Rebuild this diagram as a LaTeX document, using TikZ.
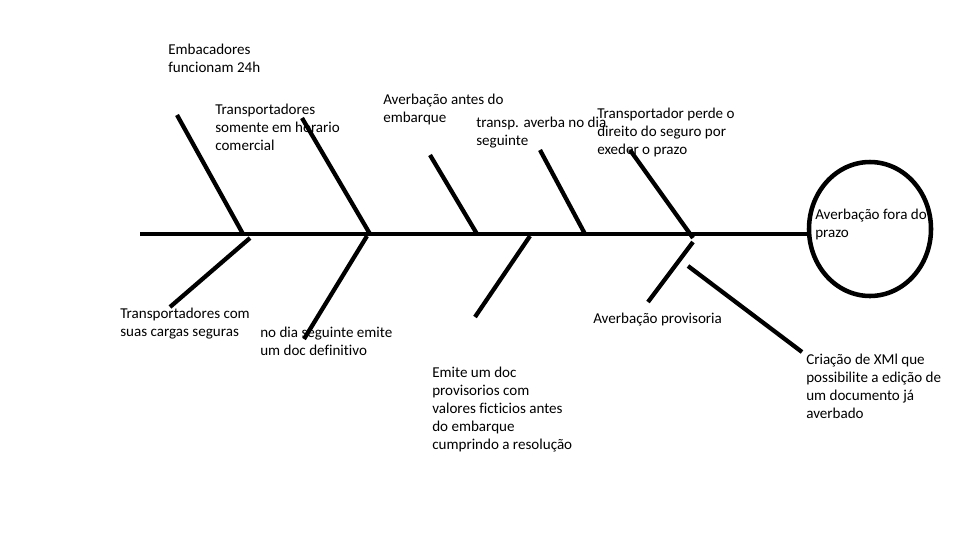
\documentclass[tikz,border=0pt]{standalone}
\usepackage{fontspec}
\setmainfont[Ligatures={NoCommon}]{Carlito}
\begin{document}
\begin{tikzpicture}[x=0.75pt,y=-0.75pt,
  bone/.style={line width=3.2pt},
  lbl/.style={anchor=north west,align=left,inner sep=0pt,font=\fontsize{11.3}{13.5}\selectfont}]
\useasboundingbox[fill=white] (0,0) rectangle (960,540);
% spine and head
\coordinate (tail) at (140,234);
\draw[line width=3.4pt] (870,229) ellipse [x radius=61, y radius=67];
\coordinate (head) at (809,234);
\draw[bone] (tail) -- (head);
% upper bones
\draw[bone] (177,115) -- (243,234);
\draw[bone] (302,118) -- (370,234);
\draw[bone] (430,155) -- (477,234);
\draw[bone] (540,150) -- (585,234);
\draw[bone] (630,150) -- (693,238);
% lower bones
\draw[bone] (250,238) -- (170,307);
\draw[bone] (367,236) -- (304,339);
\draw[bone] (530,236) -- (475,317);
\draw[bone] (693,242) -- (648,302);
\draw[bone] (688,266) -- (802,352);
% labels
\node[lbl] (t1) at (168,44) {Embacadores\\funcionam 24h};
\node[lbl] (t2) at (215,104) {Transportadores\\somente em horario\\comercial};
\node[lbl] (t3) at (383,94) {Averbação antes do\\embarque};
\node[lbl] (t4) at (476,117) {transp. averba no dia\\seguinte};
\node[lbl] (t5) at (597,108) {Transportador perde o\\direito do seguro por\\exeder o prazo};
\node[lbl] (t6) at (815,209) {Averbação fora do\\prazo};
\node[lbl] (b1) at (120,308) {Transportadores com\\suas cargas seguras};
\node[lbl] (b2) at (260,327) {no dia seguinte emite\\um doc definitivo};
\node[lbl] (b3) at (432,367) {Emite um doc\\provisorios com\\valores ficticios antes\\do embarque\\cumprindo a resolução};
\node[lbl] (b4) at (593,313) {Averbação provisoria};
\node[lbl] (b5) at (806,354) {Criação de XMl que\\possibilite a edição de\\um documento já\\averbado};
\end{tikzpicture}
\end{document}
